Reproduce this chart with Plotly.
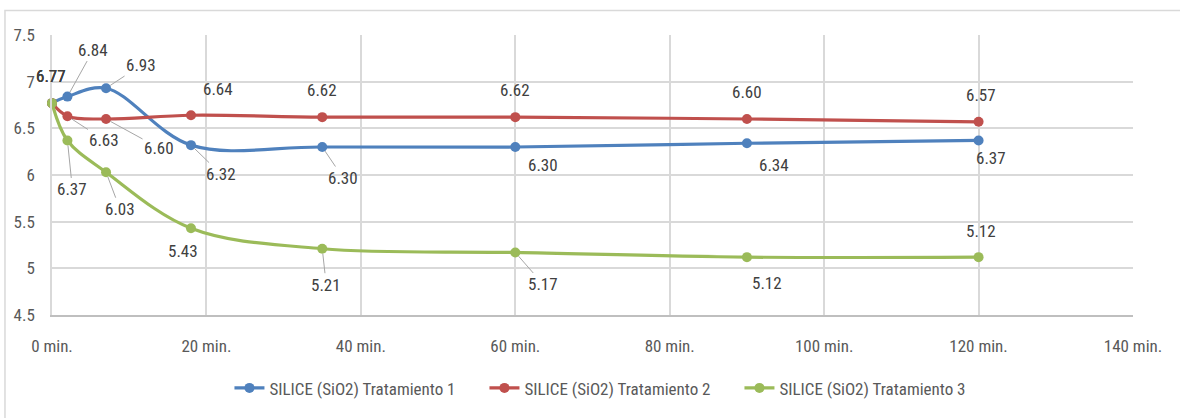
import plotly.graph_objects as go

# Sampling times (minutes) and pH readings for each treatment
minutes = [0, 2, 7, 18, 35, 60, 90, 120]
ph_t1 = [6.77, 6.84, 6.93, 6.32, 6.30, 6.30, 6.34, 6.37]
ph_t2 = [6.77, 6.63, 6.60, 6.64, 6.62, 6.62, 6.60, 6.57]
ph_t3 = [6.77, 6.37, 6.03, 5.43, 5.21, 5.17, 5.12, 5.12]

series_names = [
    "SILICE (SiO2) Tratamiento 1",
    "SILICE (SiO2) Tratamiento 2",
    "SILICE (SiO2) Tratamiento 3",
]

x_tick_values = [0, 20, 40, 60, 80, 100, 120, 140]
x_tick_labels = ["0 min.", "20 min.", "40 min.", "60 min.", "80 min.",
                 "100 min.", "120 min.", "140 min."]

# Label placement in pixels relative to each point: (dx, dy, leader line)
label_offsets_t1 = [(-1, -27, False), (26, -47, True), (35, -23, True), (30, 29, True),
                    (21, 31, True), (28, 18, False), (27, 22, False), (12, 18, False)]
label_offsets_t2 = [(-1, -27, False), (37, 24, True), (53, 29, True), (27, -26, False),
                    (0, -27, False), (0, -27, False), (0, -27, False), (2, -27, False)]
label_offsets_t3 = [(-1, -27, False), (5, 49, True), (14, 37, True), (-8, 23, False),
                    (4, 36, True), (28, 32, True), (20, 26, False), (2, -26, False)]

colors = ["#4F81BD", "#C0504D", "#9BBB59"]
FONT = "Liberation Sans Narrow, Roboto Condensed, Arial Narrow, Roboto, sans-serif"
TEXT = "#404040"
GRID = "#D9D9D9"

fig = go.Figure()

all_series = [ph_t1, ph_t2, ph_t3]
all_offsets = [label_offsets_t1, label_offsets_t2, label_offsets_t3]

for name, values, color in zip(series_names, all_series, colors):
    fig.add_trace(go.Scatter(
        x=minutes, y=values, name=name, mode="lines+markers",
        line=dict(color=color, width=3.2, shape="spline", smoothing=1.0),
        marker=dict(color=color, size=10),
        cliponaxis=False,
    ))

annotations = []
for values, offsets in zip(all_series, all_offsets):
    for xv, yv, (dx, dy, leader) in zip(minutes, values, offsets):
        annotations.append(dict(
            x=xv, y=yv, xref="x", yref="y",
            text=f"{yv:.2f}",
            showarrow=True, ax=dx, ay=dy,
            arrowhead=0, arrowwidth=1, standoff=5,
            arrowcolor="#A6A6A6" if leader else "rgba(0,0,0,0)",
            font=dict(family=FONT, size=17, color=TEXT),
        ))

fig.update_layout(
    width=1180, height=418,
    margin=dict(l=52, r=47, t=35, b=97),
    paper_bgcolor="white", plot_bgcolor="white",
    font=dict(family=FONT, size=17, color="#595959"),
    showlegend=True,
    legend=dict(orientation="h", x=0.518, xanchor="center", y=-0.262, yanchor="middle",
                font=dict(family=FONT, size=17, color="#595959"),
                itemwidth=30, entrywidth=210, entrywidthmode="pixels",
                bgcolor="rgba(0,0,0,0)"),
    annotations=annotations,
    shapes=[dict(type="rect", xref="paper", yref="paper",
                 x0=-0.0435, x1=1.06, y0=-0.4, y1=1.0877,
                 line=dict(color=GRID, width=1.5), layer="below")],
)

fig.update_xaxes(
    range=[0, 140], tickvals=x_tick_values, ticktext=x_tick_labels,
    showgrid=True, gridcolor=GRID, gridwidth=1.5,
    showline=True, linecolor="#BFBFBF", linewidth=1.5, mirror=False,
    zeroline=False, ticks="", ticklabelstandoff=15,
    tickfont=dict(family=FONT, size=17, color="#595959"),
)
fig.update_yaxes(
    range=[4.5, 7.5], dtick=0.5, tick0=4.5,
    showgrid=True, gridcolor=GRID, gridwidth=1.5,
    showline=True, linecolor=GRID, linewidth=1.5,
    zeroline=False, ticks="", ticklabelstandoff=12,
    tickfont=dict(family=FONT, size=17, color="#595959"),
)

fig.write_html("out.html")
